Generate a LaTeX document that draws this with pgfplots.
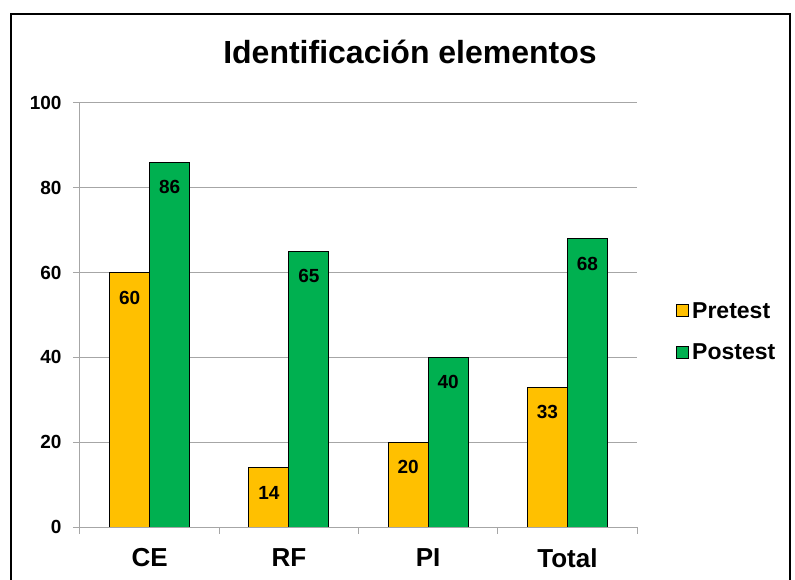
\documentclass[border=0pt]{standalone}
\usepackage{pgfplots}
\pgfplotsset{compat=1.18}
\usepackage{fontspec}
\setmainfont{Liberation Sans}
\definecolor{preC}{HTML}{FFC000}
\definecolor{postC}{HTML}{00B050}
\definecolor{gridC}{HTML}{A6A6A6}
\begin{document}
\begin{tikzpicture}
\useasboundingbox (-80bp,-53bp) rectangle (715bp,527bp);
\draw[line width=2bp] (-69bp,-70bp) -- (-69bp,513bp) -- (710bp,513bp) -- (710bp,-70bp);
\node[font=\fontsize{32bp}{37bp}\selectfont\bfseries] at (330bp,475bp) {Identificación elementos};
\begin{axis}[
  at={(0,0)}, anchor=south west,
  scale only axis, width=557bp, height=424bp,
  ybar=0pt, bar width=40bp,
  xmin=-0.5, xmax=3.5, ymin=0, ymax=100,
  axis x line*=bottom, axis y line*=left,
  axis line style={gridC, line width=1bp, -},
  ytick={0,20,...,100},
  ymajorgrids, grid style={gridC, line width=1bp},
  tick align=outside,
  major tick length=7bp,
  tick style={gridC, line width=1bp},
  xtick={0,1,2,3},
  xticklabels={CE,RF,PI,Total},
  x tick style={draw=none},
  extra x ticks={-0.5,0.5,1.5,2.5,3.5},
  extra x tick labels={},
  extra x tick style={grid=none, x tick style={draw=gridC}, major tick length=7bp},
  /pgf/number format/assume math mode=true,
  yticklabel style={font=\fontsize{19bp}{23bp}\selectfont\bfseries, xshift=-8bp},
  xticklabel style={font=\fontsize{26bp}{31bp}\selectfont\bfseries, yshift=-11bp},
  nodes near coords,
  every node near coord/.append style={font=\fontsize{19bp}{23bp}\selectfont\bfseries, anchor=center, yshift=-25bp, text=black},
  legend style={at={(1.065,0.461)}, anchor=west, draw=none, fill=none,
    font=\fontsize{23bp}{27bp}\selectfont\bfseries, row sep=20bp,
    nodes={inner xsep=3bp}},
  legend cell align=left,
  legend image code/.code={\draw[#1, draw=black, line width=0.8bp] (0bp,-6bp) rectangle (12bp,6bp);},
]
\addplot[fill=preC, draw=black, line width=0.8bp] coordinates {(0,60) (1,14) (2,20) (3,33)};
\addplot[fill=postC, draw=black, line width=0.8bp] coordinates {(0,86) (1,65) (2,40) (3,68)};
\legend{Pretest,Postest}
\end{axis}
\end{tikzpicture}
\end{document}
